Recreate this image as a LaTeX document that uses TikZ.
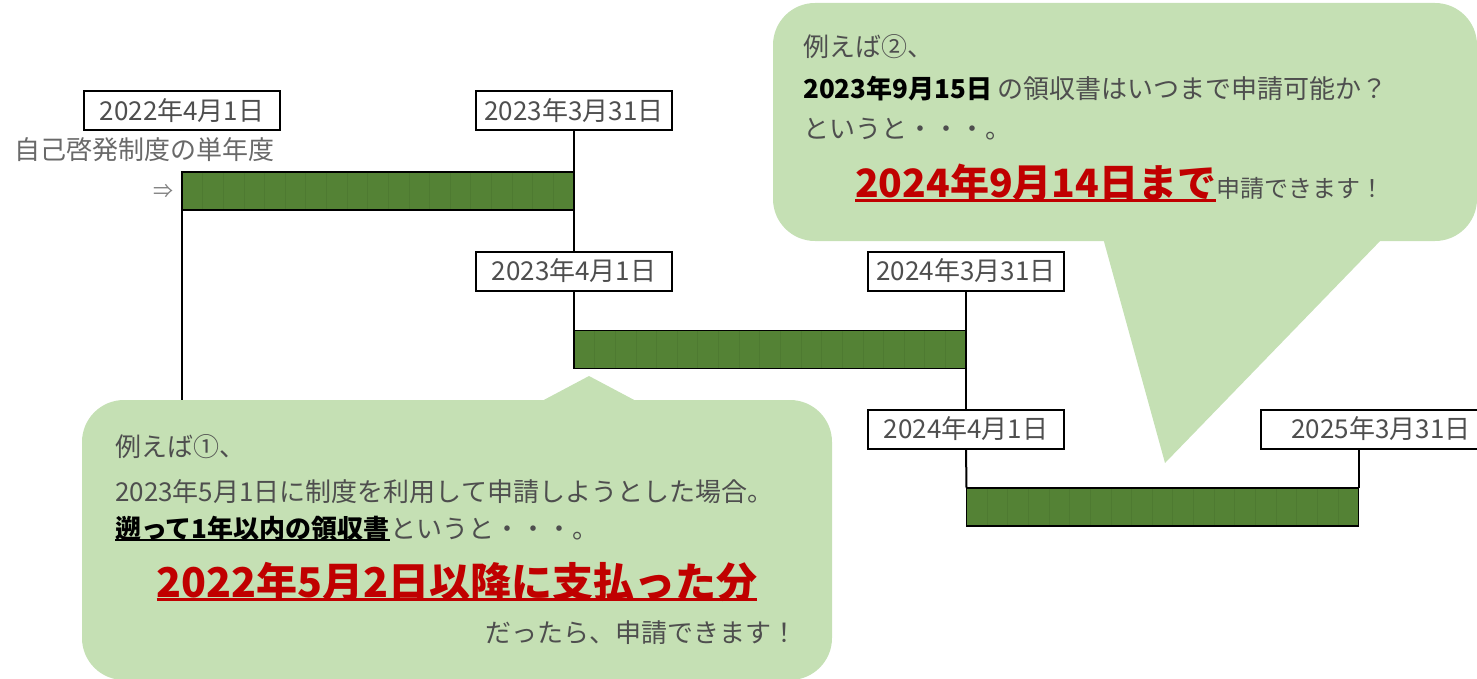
\documentclass[tikz,border=0pt]{standalone}
\usepackage{fontspec}
\setmainfont{Noto Sans CJK JP}
\definecolor{bargreen}{RGB}{84,130,53}
\definecolor{cellgreen}{RGB}{78,122,49}
\definecolor{bubblegreen}{RGB}{197,224,180}
\definecolor{alertred}{RGB}{192,0,0}
\definecolor{textgray}{RGB}{78,78,78}
\definecolor{markgray}{RGB}{130,130,130}
\usetikzlibrary{positioning,calc}

\newcommand{\ulined}[3]{\setbox0=\hbox{#3}\leavevmode\rlap{\rule[-#1]{\wd0}{#2}}\usebox0}

\tikzset{
  datebox/.style={draw, line width=2pt, fill=white, text=textgray, outer sep=0pt,
    minimum width=196pt, minimum height=39pt, inner sep=0pt, font=\fontsize{26}{30}\selectfont},
  yearbar/.style={draw, line width=1.8pt, fill=bargreen, outer sep=0pt,
    minimum width=392pt, minimum height=38pt, inner sep=0pt},
  cellline/.style={cellgreen, line width=0.7pt, shorten <=0.9pt, shorten >=0.9pt},
  link/.style={line width=2pt},
  bubble/.style={fill=bubblegreen, rounded corners=42pt, inner sep=0pt},
  note/.style={anchor=base west, inner sep=0pt, text=textgray, font=\fontsize{26}{30}\selectfont},
  boldnote/.style={text=black, font=\fontsize{26}{30}\selectfont\bfseries},
  bignote/.style={inner sep=0pt, text=alertred, font=\fontsize{41}{47}\selectfont\bfseries}
}

\begin{document}
\begin{tikzpicture}[x=1pt, y=-1pt]
  \useasboundingbox (0,0) rectangle (1477,679);

  % date labels
  \node[datebox] (d1) at (182,111) {2022年4月1日};
  \node[datebox] (d2) at (574,111) {2023年3月31日};
  \node[datebox] (d3) at (574,271) {2023年4月1日};
  \node[datebox] (d4) at (966,271) {2024年3月31日};
  \node[datebox] (d5) at (966,429) {2024年4月1日};
  \node[datebox, minimum width=240pt] (d6) at (1381,429) {2025年3月31日};
  \node[note, text=textgray!85] (span) at (14,160) {自己啓発制度の単年度};

  % one bar per fiscal year
  \node[yearbar] (bar1) at (378,191) {};
  \node[yearbar] (bar2) at (770,349.5) {};
  \node[yearbar] (bar3) at (1162.5,507) {};
  \foreach \b in {bar1,bar2,bar3}
    \foreach \i in {1,...,18}
      \draw[cellline] ($(\b.north west)!\i/19!(\b.north east)$) -- ($(\b.south west)!\i/19!(\b.south east)$);
  \node[inner sep=0pt, text=markgray, font=\fontsize{20}{24}\selectfont, left=8pt of bar1] (mark) {⇒};

  % links
  \draw[link] (d2.south) -- (bar1.north east);
  \draw[link] (bar1.south east) -- (d3.north);
  \draw[link] (d3.south) -- (bar2.north west);
  \draw[link] (d4.south) -- (bar2.north east);
  \draw[link] (bar2.south east) -- (d5.north);
  \draw[link] (d5.south) -- (bar3.north west);
  \draw[link] (bar3.north east |- d6.south) -- (bar3.north east);
  \coordinate (leftend) at (182,405);
  \draw[link] (bar1.south west) -- (leftend);

  % callouts
  \node[bubble, minimum width=750pt, minimum height=280pt] (note1) at (457,540) {};
  \fill[bubblegreen] (540,402) -- (589,376) -- (638,402) -- cycle;
  \node[bubble, minimum width=704pt, minimum height=238pt] (note2) at (1125,122) {};
  \fill[bubblegreen] (1103,238) -- (1165,463) -- (1383,238) -- cycle;

  % text of callout 1
  \node[note] (n1a) at (115,456) {例えば①、};
  \node[note] (n1b) at (115,501) {2023年5月1日に制度を利用して申請しようとした場合。};
  \node[note, boldnote] (n1c) at (115,538) {\ulined{3pt}{2pt}{遡って1年以内の領収書}};
  \node[note] (n1d) at (n1c.base east) {というと・・・。};
  \node[bignote, anchor=base] (n1e) at (457,597) {\ulined{4pt}{3pt}{2022年5月2日以降に支払った分}};
  \node[note] (n1f) at (485,642) {だったら、申請できます！};

  % text of callout 2
  \node[note] (n2a) at (803,57) {例えば②、};
  \node[note, boldnote] (n2b) at (803,99) {2023年9月15日};
  \node[note] (n2c) at ([xshift=5pt]n2b.base east) {の領収書はいつまで申請可能か？};
  \node[note] (n2d) at (803,139) {というと・・・。};
  \node[bignote, anchor=base west, font=\fontsize{39}{45}\selectfont\bfseries] (n2e) at (855,198) {\ulined{4pt}{3pt}{2024年9月14日まで}};
  \node[note, font=\fontsize{24}{28}\selectfont] (n2f) at (n2e.base east) {申請できます！};
\end{tikzpicture}
\end{document}
